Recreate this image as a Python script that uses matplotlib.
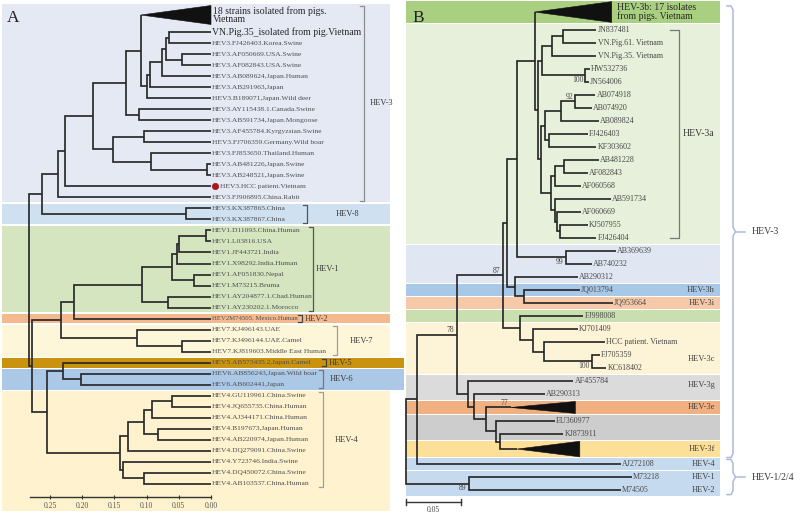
import matplotlib

matplotlib.use("Agg")
import matplotlib.pyplot as plt
import numpy as np
from matplotlib.patches import Polygon
from matplotlib.transforms import offset_copy

plt.rcParams["font.family"] = ["Liberation Serif", "DejaVu Serif"]

# ---------------- panel A: time-scaled tree, tips at 0.00 ----------------
A_LABELS = [
    "18 strains isolated from pigs.\nVietnam",
    "VN.Pig.35_isolated from pig.Vietnam",
    "HEV3.FJ426403.Korea.Swine",
    "HEV3.AF050669.USA.Swine",
    "HEV3.AF082843.USA.Swine",
    "HEV3.AB089624,Japan.Human",
    "HEV3.AB291963,Japan",
    "HEV3.B189071,Japan.Wild deer",
    "HEV3.AY115438.1.Canada.Swine",
    "HEV3.AB591734,Japan.Mongoose",
    "HEV3.AF455784.Kyrgyzstan.Swine",
    "HEV3.FJ706359.Germany.Wild boar",
    "HEV3.FJ853650.Thailand.Human",
    "HEV3.AB481226,Japan.Swine",
    "HEV3.AB248521,Japan.Swine",
    "HEV3.HCC patient.Vietnam",
    "HEV3.FJ906895.China.Rabit",
    "HEV3.KX387865.China",
    "HEV3.KX387867.China",
    "HEV1.D11093.China.Human",
    "HEV1.L03816.USA",
    "HEV1.JF443721.India",
    "HEV1.X98292.India.Human",
    "HEV1.AF051830.Nepal",
    "HEV1.M73215.Bruma",
    "HEV1.AY204877.1.Chad.Human",
    "HEV1.AY230202.1.Morocco",
    "HEV2M74505. Mexico.Human",
    "HEV7.KJ496143.UAE",
    "HEV7.KJ496144.UAE.Camel",
    "HEV7.KJ819603.Middle East Human",
    "HEV5.AB573435.2,Japan.Camel",
    "HEV6.AB856243,Japan.Wild boar",
    "HEV6.AB602441,Japan",
    "HEV4.GU119961.China.Swine",
    "HEV4.JQ655735.China.Human",
    "HEV4.AJ344171.China.Human",
    "HEV4.B197673,Japan.Human",
    "HEV4.AB220974,Japan.Human",
    "HEV4.DQ279091.China.Swine",
    "HEV4.Y723746.India.Swine",
    "HEV4.DQ450072.China.Swine",
    "HEV4.AB103537.China.Human",
]
A_TIPS = [0.0] * len(A_LABELS)
A_SIZES = {0: 2.1}                      # collapsed clade takes more room
A_TRIANGLES = {0: (0.109, 0.86)}        # apex height, half height (rows)
A_HCC = 15
A_HEV2 = 27
# internal node -> (height, children); ints are leaves
A_NODES = {
    "a1": (0.065, [1, 2]),
    "a2": (0.045, [3, 4]),
    "a3": (0.070, ["a1", "a2"]),
    "a4": (0.076, ["a3", 5]),
    "a5": (0.095, ["a4", 6]),
    "a6": (0.099, ["a5", 7]),
    "a7": (0.109, [0, "a6"]),
    "a8": (0.112, [8, 9]),
    "a9": (0.132, ["a7", "a8"]),
    "a10": (0.104, [10, 11]),
    "a11": (0.006, [13, 14]),
    "a12": (0.093, [12, "a11"]),
    "a13": (0.152, ["a10", "a12"]),
    "a14": (0.183, ["a9", "a13"]),
    "a15": (0.227, ["a14", 15]),
    "a16": (0.238, ["a15", 16]),
    "h8": (0.039, [17, 18]),
    "a17": (0.262, ["a16", "h8"]),
    "b1": (0.008, [19, 20]),
    "b2": (0.050, ["b1", 21]),
    "b3": (0.053, ["b2", 22]),
    "b4": (0.026, [23, 24]),
    "b5": (0.061, ["b3", "b4"]),
    "b6": (0.067, [25, 26]),
    "b7": (0.107, ["b5", "b6"]),
    "b8": (0.213, ["b7", 27]),
    "c1": (0.045, [29, 30]),
    "c2": (0.115, [28, "c1"]),
    "c3": (0.233, ["b8", "c2"]),
    "d1": (0.202, [32, 33]),
    "d2": (0.230, [31, "d1"]),
    "e1": (0.061, [34, 35]),
    "e2": (0.092, ["e1", 36]),
    "e3": (0.082, [37, 38]),
    "e4": (0.104, ["e2", "e3"]),
    "e5": (0.129, ["e4", 39]),
    "e6": (0.104, [41, 42]),
    "e7": (0.137, [40, "e6"]),
    "e8": (0.141, ["e5", "e7"]),
    "d3": (0.255, ["d2", "e8"]),
    "r1": (0.278, ["c3", "d3"]),
    "root": (0.283, ["a17", "r1"]),
}
A_GROUPS = [
    ("HEV-3", 0, 16, "#e4e9f4"),
    ("HEV-8", 17, 18, "#cfe0f1"),
    ("HEV-1", 19, 26, "#d5e5c0"),
    ("HEV-2", 27, 27, "#f4ba8e"),
    ("HEV-7", 28, 30, "#fef6d9"),
    ("HEV-5", 31, 31, "#c9920f"),
    ("HEV-6", 32, 33, "#abc8e7"),
    ("HEV-4", 34, 42, "#fef2cf"),
]
A_TICKS = [0.25, 0.20, 0.15, 0.10, 0.05, 0.00]
A_AXIS_START = 0.281

# ---------------- panel B: distance tree ----------------
B_LABELS = [
    "HEV-3b: 17 isolates\nfrom pigs. Vietnam",
    "JN837481", "VN.Pig.61. Vietnam", "VN.Pig.35. Vietnam", "HW532736", "JN564006",
    "AB074918", "AB074920", "AB089824", "FJ426403", "KF303602", "AB481228",
    "AF082843", "AF060568", "AB591734", "AF060669", "KJ507955", "FJ426404",
    "AB369639", "AB740232", "AB290312", "JQ013794", "JQ953664", "FJ998008",
    "KJ701409", "HCC patient. Vietnam", "FJ705359", "KC618402", "AF455784",
    "AB290313", "", "EU360977", "KJ873911", "", "AJ272108", "M73218", "M74505",
]
B_TIPS = [
    0.187, 0.173, 0.173, 0.173, 0.167, 0.166, 0.172, 0.169, 0.175, 0.165,
    0.173, 0.175, 0.165, 0.159, 0.186, 0.159, 0.165, 0.173, 0.191, 0.169,
    0.156, 0.158, 0.188, 0.161, 0.156, 0.181, 0.176, 0.182, 0.152, 0.126,
    0.154, 0.135, 0.143, 0.158, 0.195, 0.205, 0.195,
]
B_SIZES = {0: 1.74, 30: 1.1, 33: 1.3}
B_TRIANGLES = {0: (0.117, 0.8), 30: (0.095, 0.46), 33: (0.101, 0.6)}
B_NODES = {
    "g1": (0.143, [1, 2]),
    "g2": (0.133, ["g1", 3]),
    "g3": (0.163, [4, 5]),
    "g4": (0.124, ["g2", "g3"]),
    "n92": (0.154, [6, 7]),
    "n1": (0.141, ["n92", 8]),
    "n2": (0.130, [9, 10]),
    "h1": (0.126, ["n1", "n2"]),
    "n3": (0.144, [11, 12]),
    "n4": (0.135, ["n3", 13]),
    "l3": (0.140, [16, 17]),
    "l2": (0.137, [15, "l3"]),
    "l1": (0.135, [14, "l2"]),
    "h2": (0.132, ["n4", "l1"]),
    "h": (0.123, ["h1", "h2"]),
    "a3": (0.120, ["g4", "h"]),
    "T": (0.117, [0, "a3"]),
    "n99": (0.145, [18, 19]),
    "P1": (0.101, ["T", "n99"]),
    "q2": (0.107, [21, 22]),
    "q1": (0.099, [20, "q2"]),
    "Q1": (0.092, ["P1", "q1"]),
    "C4": (0.169, [26, 27]),
    "C3": (0.125, [25, "C4"]),
    "C2": (0.115, [24, "C3"]),
    "C": (0.104, [23, "C2"]),
    "n87": (0.088, ["Q1", "C"]),
    "k": (0.085, [32, 33]),
    "j": (0.082, [31, "k"]),
    "i": (0.073, [30, "j"]),
    "hh": (0.062, [29, "i"]),
    "g": (0.056, [28, "hh"]),
    "n78": (0.046, ["n87", "g"]),
    "m": (0.010, ["n78", 34]),
    "n89": (0.057, [35, 36]),
    "root": (0.000, ["m", "n89"]),
}
# node, bootstrap, 1 = above branch / -1 = below
B_SUPPORT = [("g3", "100", -1), ("n92", "92", 1), ("n99", "99", -1), ("n87", "87", 1),
             ("n78", "78", 1), ("C4", "100", -1), (30, "77", 1), ("n89", "89", -1)]
B_BANDS = [
    (0, 0, "#a9d081"), (1, 17, "#e7f0db"), (18, 20, "#e0e7f3"), (21, 21, "#a8c8e8"),
    (22, 22, "#f6c9a8"), (23, 23, "#c9dfb0"), (24, 27, "#fdf3d6"), (28, 29, "#dbdbdb"),
    (30, 30, "#f1b081"), (31, 32, "#cdcdcd"), (33, 33, "#fde097"), (34, 34, "#c5daef"),
    (35, 36, "#c5daef"),
]
B_BAND_TEXT = [("HEV-3h", 21), ("HEV-3i", 22), ("HEV-3c", 26.3), ("HEV-3g", 28.3),
               ("HEV-3e", 30), ("HEV-3f", 33), ("HEV-4", 34), ("HEV-1", 35), ("HEV-2", 36)]
B_SCALE = 0.05


def leaf_rows(n, sizes):
    rows = [0.0]
    for i in range(1, n):
        rows.append(rows[-1] + (sizes.get(i - 1, 1.0) + sizes.get(i, 1.0)) / 2)
    return rows


def layout(nodes, tips, rows):
    pos = {}

    def walk(key):
        if isinstance(key, int):
            pos[key] = (tips[key], rows[key])
        else:
            x, kids = nodes[key]
            ys = [walk(k)[1] for k in kids]
            pos[key] = (x, (ys[0] + ys[-1]) / 2)
        return pos[key]

    walk("root")
    return pos


def draw_tree(ax, nodes, pos, triangles, color, lw):
    for key, (x, kids) in nodes.items():
        first, last = kids[0], kids[-1]
        e1 = triangles[first][0] if first in triangles else pos[first][0]
        e2 = triangles[last][0] if last in triangles else pos[last][0]
        ax.plot([e1, x, x, e2], [pos[first][1], pos[first][1], pos[last][1], pos[last][1]],
                color=color, lw=lw, solid_joinstyle="miter", solid_capstyle="butt", zorder=3)
    for k, (apex, half) in triangles.items():
        tx, ty = pos[k]
        ax.add_patch(Polygon([(apex, ty), (tx, ty - half), (tx, ty + half)], closed=True,
                             fc="#111111", ec="#111111", lw=0.4, zorder=3))


fig = plt.figure(figsize=(8.0, 5.14), dpi=100)

# ---------------- panel A ----------------
axA = fig.add_axes([0, 0, 405 / 800, 1])
axA.patch.set_visible(False)
axA.set_xlim(211 / 644, -194 / 644)       # 0.00 sits at x=211 px
axA.set_ylim(499 / 11.02, -15 / 11.02)
pxA = lambda px: (211 - px) / 644

rowsA = leaf_rows(len(A_LABELS), A_SIZES)
posA = layout(A_NODES, A_TIPS, rowsA)
gap = 0.06
for name, first, last, color in A_GROUPS:
    y0 = rowsA[first] - A_SIZES.get(first, 1.0) / 2 + gap
    y1 = rowsA[last] + A_SIZES.get(last, 1.0) / 2 - gap
    if name == "HEV-4":
        y1 = 45.0
    right = 404 / 405 if name in ("HEV-5", "HEV-6") else 390 / 405
    axA.axhspan(y0, y1, xmin=2 / 405, xmax=right, color=color, lw=0, zorder=0)

draw_tree(axA, A_NODES, posA, A_TRIANGLES, "#2a2a2a", 1.25)

for i, lab in enumerate(A_LABELS):
    x, y = posA[i]
    big = i in (0, 1)
    dx = 6.5 if i == A_HCC else (1.5 if i == 0 else 0.8)
    fs = 7 if big else (4.9 if i == A_HEV2 else 5.4)
    axA.annotate(lab, (x, y), xytext=(dx, 0), textcoords="offset points", ha="left", va="center",
                 fontsize=fs, color="#262626" if big else "#4d4d4d",
                 linespacing=0.95, zorder=4)
hx, hy = posA[A_HCC]
axA.plot([hx], [hy], marker="o", ms=4.6, color="#b3141b", mec="#8c0f14", mew=0.4,
         transform=offset_copy(axA.transData, fig=fig, x=4, y=0, units="dots"), zorder=4)

# group brackets: bracket x px, text x px, colour
A_BRACKET_STYLE = {
    "HEV-3": (364, 370, "#8c8c8c"), "HEV-8": (307, 336, "#555555"),
    "HEV-1": (313, 316, "#555555"), "HEV-2": (302, 305, "#444444"),
    "HEV-7": (337, 350, "#a0a0a0"), "HEV-5": (326, 329, "#444444"),
    "HEV-6": (323, 330, "#777777"), "HEV-4": (323, 335, "#a0a0a0"),
}
for name, first, last, _ in A_GROUPS:
    bx, tx, bc = A_BRACKET_STYLE[name]
    y0 = rowsA[first] - A_SIZES.get(first, 1.0) / 2 + 0.2
    y1 = rowsA[last] + A_SIZES.get(last, 1.0) / 2 - 0.2
    axA.plot([pxA(bx - 4), pxA(bx), pxA(bx), pxA(bx - 4)], [y0, y0, y1, y1],
             color=bc, lw=0.9, zorder=4)
    axA.text(pxA(tx), (y0 + y1) / 2, name, ha="left", va="center", fontsize=6,
             color="#3a3a3a", zorder=4)

for s in ("left", "right", "top"):
    axA.spines[s].set_visible(False)
axA.set_yticks([])
axA.spines["bottom"].set_position(("data", (497 - 15) / 11.02))
axA.spines["bottom"].set_bounds(0.0, A_AXIS_START)
axA.spines["bottom"].set_color("#333333")
axA.spines["bottom"].set_linewidth(1.0)
axA.set_xticks(A_TICKS)
axA.set_xticklabels([f"{t:.2f}" for t in A_TICKS])
axA.tick_params(axis="x", direction="inout", length=3.5, width=0.8, colors="#333333",
                labelsize=5.5, pad=2.0, labelcolor="#555555")

# ---------------- panel B ----------------
axB = fig.add_axes([405 / 800, 0, 395 / 800, 1])
axB.set_axis_off()
axB.set_xlim(-1 / 1100, 394 / 1100)      # root sits at x=406 px
axB.set_ylim(502 / 13, -12 / 13)
pxB = lambda px: (px - 406) / 1100

rowsB = leaf_rows(len(B_LABELS), B_SIZES)
posB = layout(B_NODES, B_TIPS, rowsB)
gapB = 0.05
for first, last, color in B_BANDS:
    y0 = rowsB[first] - B_SIZES.get(first, 1.0) / 2 + gapB
    y1 = rowsB[last] + B_SIZES.get(last, 1.0) / 2 - gapB
    axB.axhspan(y0, y1, xmin=1 / 395, xmax=315 / 395, color=color, lw=0, zorder=0)

draw_tree(axB, B_NODES, posB, B_TRIANGLES, "#232323", 1.2)

for i, lab in enumerate(B_LABELS):
    if not lab:
        continue
    x, y = posB[i]
    big = i == 0
    axB.annotate(lab, (x, y), xytext=(3.6 if big else 0.9, 0), textcoords="offset points",
                 ha="left", va="center", fontsize=7 if big else 5.8,
                 color="#262626" if big else "#484848", linespacing=0.95, zorder=4)

for key, txt, side in B_SUPPORT:
    x, y = posB[key]
    if key in B_TRIANGLES:
        x = B_TRIANGLES[key][0]
    axB.annotate(txt, (x, y), xytext=(-1.5, 3.4 * side), textcoords="offset points",
                 ha="right", va="center", fontsize=5.5, color="#444444", zorder=4)

for name, idx in B_BAND_TEXT:
    y = np.interp(idx, np.arange(len(rowsB)), rowsB)
    axB.text(pxB(715), y, name, ha="right", va="center", fontsize=6, color="#3f3f3f", zorder=4)

# HEV-3a bracket
y0, y1 = rowsB[1], rowsB[17]
axB.plot([pxB(670), pxB(679), pxB(679), pxB(670)], [y0, y0, y1, y1], color="#777777", lw=0.9)
axB.text(pxB(683), (y0 + y1) / 2, "HEV-3a", ha="left", va="center", fontsize=7, color="#3a3a3a")


def brace(ax, y0, y1, label):
    xs = [pxB(727), pxB(731), pxB(733), pxB(733), pxB(735.5), pxB(733), pxB(733), pxB(731), pxB(727)]
    ym = (y0 + y1) / 2
    ys = [y0, y0, y0 + 0.3, ym - 0.35, ym, ym + 0.35, y1 - 0.3, y1, y1]
    ax.plot(xs, ys, color="#a9badf", lw=1.1, solid_joinstyle="round")
    ax.plot([pxB(737), pxB(745)], [ym, ym], color="#a9badf", lw=1.1)
    ax.text(pxB(752), ym, label, ha="left", va="center", fontsize=7, color="#3a3a3a")


brace(axB, rowsB[0] - B_SIZES[0] / 2 + 0.4, rowsB[33] + B_SIZES[33] / 2, "HEV-3")
brace(axB, rowsB[34] - 0.35, rowsB[36] + 0.35, "HEV-1/2/4")

# scale bar
sb = (502 - 12) / 13
axB.plot([0, B_SCALE], [sb, sb], color="#333333", lw=1.0)
for xv in (0, B_SCALE):
    axB.plot([xv, xv], [sb - 0.22, sb + 0.22], color="#333333", lw=1.0)
axB.text(B_SCALE / 2, sb + 0.65, "0.05", ha="center", va="center", fontsize=5.5, color="#444444")

# panel letters
fig.text(13 / 800, 1 - 17.5 / 514, "A", ha="center", va="center", fontsize=12.5, color="#222222")
fig.text(418 / 800, 1 - 17.5 / 514, "B", ha="center", va="center", fontsize=12.5, color="#222222")

fig.savefig("out.png", dpi=100)
plt.close(fig)
